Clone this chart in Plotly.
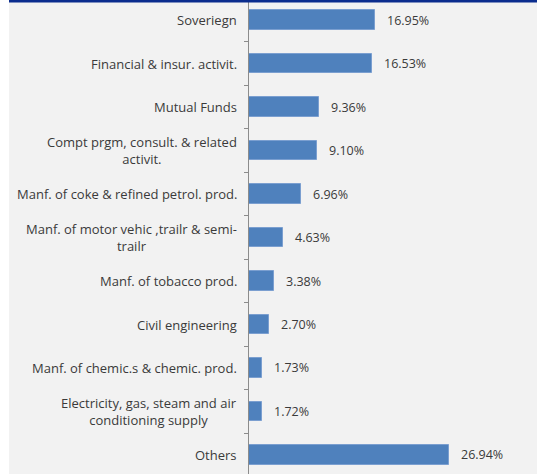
import plotly.graph_objects as go

categories = [
    "Soveriegn",
    "Financial & insur. activit.",
    "Mutual Funds",
    "Compt prgm, consult. & related<br>activit.",
    "Manf. of coke & refined petrol. prod.",
    "Manf. of motor vehic ,trailr & semi-<br>trailr",
    "Manf. of tobacco prod.",
    "Civil engineering",
    "Manf. of chemic.s & chemic. prod.",
    "Electricity, gas, steam and air<br>conditioning supply",
    "Others",
]
shares = [16.95, 16.53, 9.36, 9.10, 6.96, 4.63, 3.38, 2.70, 1.73, 1.72, 26.94]

W, H = 537, 474
LEFT = 249
FONT = "Open Sans"
TEXT_COLOR = "#3a3a3a"

fig = go.Figure()
fig.add_trace(go.Bar(
    y=categories,
    x=shares,
    orientation="h",
    width=0.44,
    marker=dict(color="#4f81bd", line=dict(color="#7b9fd0", width=1)),
    hoverinfo="skip",
))

annotations = []
for cat, val in zip(categories, shares):
    # category label, centred lines, right edge next to the axis
    annotations.append(dict(
        x=0, xref="x", y=cat, yref="y", text=cat,
        xanchor="right", yanchor="middle", align="center",
        xshift=-10, showarrow=False,
        font=dict(family=FONT, size=13, color=TEXT_COLOR),
    ))
    # value label after the bar end
    annotations.append(dict(
        x=val, xref="x", y=cat, yref="y", text=f"{val:.2f}%",
        xanchor="left", yanchor="middle",
        xshift=10, showarrow=False,
        font=dict(family=FONT, size=12.5, color=TEXT_COLOR),
    ))

plot_w = W - LEFT
shapes = [
    # white strip on the far left
    dict(type="rect", xref="paper", yref="paper",
         x0=-LEFT / plot_w, x1=(9 - LEFT) / plot_w, y0=0, y1=1,
         fillcolor="white", line=dict(width=0), layer="below"),
    # dark blue rule along the top
    dict(type="rect", xref="paper", yref="paper",
         x0=(9 - LEFT) / plot_w, x1=1, y0=1 - 2.5 / H, y1=1,
         fillcolor="#0b2d8e", line=dict(width=0), layer="above"),
]

fig.update_layout(
    width=W, height=H,
    margin=dict(l=LEFT, r=0, t=0, b=0),
    paper_bgcolor="#f2f2f2",
    plot_bgcolor="#f2f2f2",
    showlegend=False,
    bargap=0,
    annotations=annotations,
    shapes=shapes,
    xaxis=dict(range=[0, 38.7], visible=False, fixedrange=True),
    yaxis=dict(
        type="category",
        range=[10.437, -0.46],
        showticklabels=False,
        showline=True, linecolor="#8c8c8c", linewidth=1,
        ticks="outside", ticklen=4, tickcolor="#8c8c8c",
        tickson="boundaries",
        showgrid=False, zeroline=False,
    ),
)

fig.write_html("out.html")
